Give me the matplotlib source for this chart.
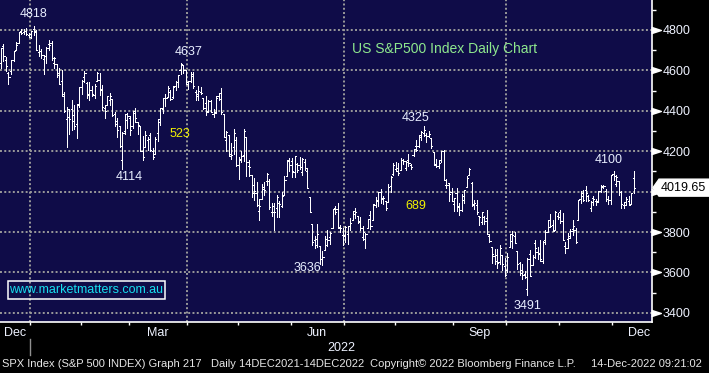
import numpy as np
import pandas as pd
import matplotlib
matplotlib.use('Agg')
import matplotlib.pyplot as plt
from matplotlib.transforms import blended_transform_factory, IdentityTransform
from matplotlib.patches import Polygon, Rectangle

plt.rcParams['font.family'] = ['Liberation Sans', 'DejaVu Sans']

# ---------------- data ----------------
holidays = ['2021-12-24', '2022-01-17', '2022-02-21', '2022-04-15', '2022-05-30',
            '2022-06-20', '2022-07-04', '2022-09-05', '2022-11-24', '2022-12-26']
dates = pd.bdate_range('2021-12-14', '2022-12-13')
dates = dates[~dates.isin(pd.to_datetime(holidays))]

opens = [
    4642, 4636, 4719, 4652, 4587, 4595, 4650, 4703, 4733, 4795, 4788, 4795, 4776,
    4779, 4804, 4788, 4693, 4697, 4655, 4670, 4728, 4733, 4637, 4632, 4588, 4548, 4471, 4357, 4367, 4408, 4380, 4336, 4431,
    4519, 4566, 4535, 4483, 4505, 4480, 4548, 4553, 4506, 4412, 4429, 4455, 4456, 4385, 4333, 4324, 4155, 4299, 4354,
    4364, 4323, 4401, 4342, 4327, 4203, 4223, 4253, 4279, 4203, 4188, 4288, 4345, 4407, 4463, 4470, 4494, 4470, 4522, 4541, 4603, 4624, 4600,
    4541, 4547, 4572, 4495, 4474, 4495, 4463, 4438, 4395, 4450, 4385, 4391, 4473, 4489, 4385, 4255, 4278, 4187, 4222, 4253,
    4131, 4159, 4181, 4271, 4128, 4081, 4035, 3991, 3903, 3963, 4013, 4053, 4051, 3900, 3927, 3919, 3942, 3930, 3985, 4077, 4151,
    4150, 4096, 4138, 4134, 4096, 4148, 4101, 3975, 3839, 3763, 3765, 3729, 3666, 3710, 3734, 3774, 3821, 3920, 3913, 3825, 3785,
    3782, 3792, 3831, 3859, 3889, 3880, 3851, 3776, 3764, 3818, 3884, 3860, 3935, 3955, 4000, 3966, 3953, 3951, 4026, 4088,
    4112, 4104, 4108, 4154, 4116, 4156, 4133, 4181, 4227, 4225, 4269, 4290, 4281, 4274, 4266, 4195, 4134, 4127, 4154, 4199, 4035, 4041, 4000,
    3937, 3995, 3930, 3910, 3960, 4022, 4084, 4041, 3940, 3933, 3880, 3849, 3875, 3871, 3782, 3727, 3682, 3687, 3651, 3687, 3633,
    3610, 3726, 3754, 3778, 3706, 3646, 3595, 3590, 3520, 3690, 3638, 3746, 3703, 3689, 3657, 3762, 3799, 3825, 3835, 3809, 3881,
    3901, 3853, 3733, 3767, 3780, 3817, 3810, 3859, 3964, 3978, 4007, 3976, 3920, 3967, 3956, 3956, 4001, 4024, 4005, 3964, 3957,
    4087, 4040, 4052, 3996, 3934, 3947, 3954, 3940, 4069,
]
highs = [
    4660, 4712, 4731, 4667, 4591, 4651, 4698, 4741, 4791, 4807, 4805, 4809, 4787,
    4797, 4819, 4798, 4725, 4708, 4674, 4714, 4749, 4744, 4665, 4632, 4611, 4603, 4494, 4418, 4411, 4454, 4428, 4432, 4517,
    4550, 4595, 4542, 4540, 4521, 4531, 4590, 4588, 4527, 4427, 4472, 4489, 4456, 4394, 4362, 4325, 4295, 4385, 4388,
    4375, 4401, 4416, 4342, 4327, 4276, 4299, 4268, 4292, 4218, 4271, 4358, 4412, 4465, 4481, 4522, 4501, 4521, 4546, 4575, 4637, 4627, 4603,
    4547, 4593, 4593, 4504, 4521, 4520, 4463, 4472, 4453, 4453, 4411, 4471, 4489, 4513, 4386, 4299, 4278, 4240, 4309, 4269,
    4169, 4200, 4308, 4271, 4158, 4082, 4068, 4050, 3964, 4039, 4046, 4090, 4063, 3946, 3943, 3982, 3956, 3999, 4075, 4158, 4168,
    4166, 4177, 4143, 4169, 4164, 4160, 4119, 3975, 3839, 3778, 3838, 3729, 3707, 3780, 3811, 3802, 3914, 3928, 3945, 3837, 3818,
    3829, 3832, 3870, 3905, 3919, 3880, 3874, 3829, 3796, 3864, 3903, 3940, 3975, 3999, 4013, 3976, 3953, 4039, 4079, 4140,
    4145, 4141, 4167, 4161, 4151, 4187, 4138, 4211, 4257, 4280, 4302, 4325, 4292, 4300, 4266, 4195, 4160, 4156, 4200, 4204, 4062, 4045, 4016,
    3970, 4019, 3942, 3987, 4010, 4076, 4119, 4050, 3961, 3957, 3880, 3900, 3877, 3907, 3790, 3727, 3716, 3717, 3737, 3687, 3672,
    3698, 3791, 3807, 3798, 3707, 3653, 3641, 3608, 3670, 3712, 3684, 3762, 3728, 3762, 3757, 3810, 3862, 3887, 3859, 3906, 3894,
    3911, 3895, 3750, 3796, 3814, 3859, 3818, 3959, 4002, 4009, 4029, 3984, 3954, 3979, 3962, 4004, 4034, 4034, 4013, 3976, 4080,
    4101, 4080, 4052, 4001, 3951, 3974, 3977, 3991, 4100,
]
lows = [
    4606, 4612, 4648, 4598, 4531, 4584, 4645, 4703, 4733, 4780, 4779, 4775, 4766,
    4758, 4775, 4699, 4672, 4663, 4582, 4638, 4702, 4651, 4614, 4568, 4530, 4475, 4395, 4223, 4287, 4305, 4309, 4264, 4420,
    4484, 4544, 4464, 4451, 4471, 4465, 4548, 4478, 4402, 4364, 4429, 4430, 4374, 4327, 4268, 4223, 4114, 4287, 4316,
    4280, 4317, 4346, 4285, 4199, 4157, 4223, 4206, 4200, 4162, 4188, 4251, 4329, 4390, 4425, 4469, 4455, 4465, 4501, 4518, 4582, 4589, 4530,
    4507, 4541, 4514, 4453, 4451, 4482, 4411, 4381, 4393, 4392, 4370, 4390, 4455, 4385, 4268, 4200, 4175, 4162, 4188, 4128,
    4062, 4147, 4152, 4077, 4076, 3975, 3958, 3929, 3859, 3963, 3984, 4033, 3912, 3878, 3810, 3876, 3875, 3925, 3985, 4077, 4104,
    4074, 4074, 4098, 4110, 4081, 4107, 4017, 3900, 3734, 3722, 3725, 3640, 3636, 3710, 3730, 3743, 3821, 3889, 3820, 3799, 3738,
    3752, 3743, 3809, 3859, 3869, 3847, 3812, 3759, 3722, 3818, 3817, 3860, 3925, 3927, 3945, 3937, 3910, 3951, 3996, 4080,
    4104, 4080, 4108, 4135, 4108, 4128, 4112, 4177, 4201, 4219, 4257, 4277, 4245, 4269, 4218, 4130, 4123, 4119, 4147, 4057, 4017, 3954, 3954,
    3904, 3906, 3886, 3906, 3945, 4022, 4084, 3929, 3913, 3887, 3837, 3838, 3838, 3789, 3749, 3647, 3644, 3623, 3641, 3610, 3584,
    3604, 3726, 3723, 3744, 3618, 3589, 3569, 3572, 3491, 3582, 3638, 3673, 3667, 3655, 3647, 3741, 3799, 3824, 3804, 3808, 3863,
    3843, 3759, 3698, 3722, 3772, 3786, 3744, 3859, 3944, 3956, 3953, 3955, 3906, 3936, 3933, 3947, 3999, 4020, 3956, 3937, 3938,
    4058, 4026, 3984, 3919, 3917, 3935, 3934, 3937, 3994,
]
closes = [
    4634, 4709, 4669, 4621, 4568, 4649, 4697, 4726, 4791, 4786, 4793, 4778, 4766,
    4797, 4794, 4701, 4696, 4677, 4670, 4713, 4726, 4659, 4663, 4577, 4533, 4483, 4398, 4410, 4357, 4350, 4327, 4432, 4516,
    4546, 4589, 4477, 4501, 4484, 4522, 4587, 4504, 4419, 4401, 4472, 4475, 4380, 4349, 4305, 4226, 4288, 4385, 4374,
    4306, 4387, 4363, 4329, 4201, 4171, 4278, 4260, 4204, 4173, 4262, 4358, 4412, 4463, 4461, 4512, 4456, 4520, 4543, 4575, 4632, 4602, 4530,
    4546, 4583, 4525, 4481, 4500, 4488, 4413, 4397, 4447, 4392, 4392, 4463, 4459, 4394, 4272, 4296, 4175, 4183, 4288, 4132,
    4155, 4175, 4300, 4147, 4123, 3991, 4001, 3935, 3930, 4024, 4008, 4088, 3923, 3901, 3901, 3974, 3941, 3979, 4058, 4158, 4132,
    4101, 4176, 4109, 4121, 4161, 4116, 4018, 3901, 3750, 3735, 3790, 3667, 3675, 3765, 3760, 3796, 3912, 3900, 3822, 3819, 3785,
    3825, 3831, 3845, 3903, 3899, 3855, 3819, 3801, 3791, 3863, 3831, 3937, 3960, 3999, 3962, 3967, 3921, 4024, 4073, 4130,
    4119, 4091, 4155, 4152, 4145, 4140, 4122, 4210, 4207, 4280, 4297, 4305, 4275, 4284, 4228, 4138, 4128, 4141, 4199, 4058, 4031, 3986, 3955,
    3967, 3924, 3909, 3980, 4006, 4067, 4110, 3932, 3946, 3901, 3873, 3900, 3856, 3790, 3758, 3693, 3655, 3648, 3720, 3640, 3586,
    3679, 3791, 3783, 3745, 3640, 3612, 3589, 3577, 3669, 3583, 3677, 3720, 3695, 3666, 3753, 3798, 3859, 3831, 3807, 3901, 3872,
    3856, 3760, 3720, 3771, 3807, 3828, 3749, 3957, 3993, 3957, 3992, 3959, 3947, 3965, 3950, 4003, 4027, 4026, 3964, 3958, 4080,
    4077, 4072, 3999, 3941, 3933, 3964, 3934, 3991, 4019.65,
]

y_ticks = [3400, 3600, 3800, 4000, 4200, 4400, 4600, 4800]
y_ticklabels = ['3400', '3600', '3800', '', '4200', '4400', '4600', '4800']  # 4000 hidden by last-price tag
y_minor = [3500, 3700, 3900, 4100, 4300, 4500, 4700, 4900]
month_labels = ['Dec', 'Mar', 'Jun', 'Sep', 'Dec']
month_label_periods = ['2021-12', '2022-03', '2022-06', '2022-09', '2022-12']
year_label = '2022'

ann_text = ['4818', '4637', '523', '4114', '4325', '689', '3636', '4100', '3491']
ann_x = [14.1, 75.3, 71.7, 51.6, 164.9, 164.9, 121.9, 241.2, 209.2]
ann_y = [4879, 4691, 4284, 4070, 4363, 3927, 3624, 4155, 3435]
ann_col = ['#e8eeff', '#e8eeff', '#f2f200', '#e8eeff', '#e8eeff', '#f2f200', '#e8eeff', '#e8eeff', '#e8eeff']

title_text = 'US S&P500 Index Daily Chart'
site_text = 'www.marketmatters.com.au'
footer = ['SPX Index (S&P 500 INDEX) Graph 217', 'Daily 14DEC2021-14DEC2022',
          'Copyright\u00a9 2022 Bloomberg Finance L.P.', '14-Dec-2022 09:21:02']
footer_x = [2, 211, 370, 591]

# ---------------- figure ----------------
W, H = 709, 373
NAVY = '#0f0c48'
fig = plt.figure(figsize=(W / 100, H / 100), dpi=100, facecolor='black')
ax = fig.add_axes([0, 1 - 322 / H, 652 / W, 322 / H])
ax.set_facecolor(NAVY)

idx = np.arange(len(dates))
assert len(opens) == len(highs) == len(lows) == len(closes) == len(idx)
kw = dict(colors='white', linewidth=0.55, antialiased=False, zorder=3)
ax.vlines(idx, lows, highs, **kw)
ax.hlines(opens, idx - 0.45, idx, **kw)
ax.hlines(closes, idx, idx + 0.45, **kw)

ax.set_xlim(0.65, 258.2)
ax.set_ylim(3355, 4948)

# month boundaries
months = dates.to_period('M')
bounds = [i - 0.5 for i in range(1, len(dates)) if months[i] != months[i - 1]]
qbounds = [i - 0.5 for i in range(1, len(dates))
           if months[i] != months[i - 1] and dates[i].month in (1, 4, 7, 10)]

grid_kw = dict(color='#9a9a9a', linewidth=1.4, linestyle=(0, (1, 1.2)), zorder=1)
for b in qbounds:
    ax.axvline(b, **grid_kw)
for yv in y_ticks:
    ax.axhline(yv, **grid_kw)

for s in ['top', 'left']:
    ax.spines[s].set_visible(False)
for s in ['bottom', 'right']:
    ax.spines[s].set_color('white')
    ax.spines[s].set_linewidth(1.2)

ax.set_xticks(bounds)
ax.tick_params(axis='x', which='major', length=2.5, width=1, color='white',
               direction='out', labelbottom=False)

ax.yaxis.tick_right()
ax.set_yticks(y_ticks)
ax.set_yticklabels(y_ticklabels)
ax.set_yticks(y_minor, minor=True)
ax.tick_params(axis='y', which='major', length=0, pad=7.5, labelsize=9, labelcolor='#eef2ff')
ax.tick_params(axis='y', which='minor', length=3, width=1, color='white', direction='out')

# triangle markers on major ticks
btr = blended_transform_factory(ax.transAxes, ax.transData)
tri = [(-1, -0.65), (1, 0), (-1, 0.65)]
ax.plot([1 + 4.5 / 652] * len(y_ticks), y_ticks, ls='none', marker=tri, ms=7,
        color='white', mec='white', transform=btr, clip_on=False, zorder=5)

# month labels
full_days = pd.bdate_range('2021-12-01', '2022-12-31')
full_days = full_days[~full_days.isin(pd.to_datetime(holidays))]
offset = list(full_days).index(dates[0])
full_idx = np.arange(len(full_days)) - offset
fper = full_days.to_period('M').astype(str)
xt = blended_transform_factory(ax.transData, fig.transFigure)
for lab, per in zip(month_labels, month_label_periods):
    c = full_idx[fper == per].mean()
    if (c - 0.65) * 2.532 < 12:
        ax.text(4 / 652, 1 - 333 / H, lab, transform=blended_transform_factory(ax.transAxes, fig.transFigure),
                ha='left', va='center', fontsize=9, color='#eef2ff')
    else:
        ax.text(c, 1 - 333 / H, lab, transform=xt, ha='center', va='center',
                fontsize=9, color='#eef2ff')
ax.text((bounds[0] + 258.2) / 2, 1 - 348 / H, year_label, transform=xt, ha='center',
        va='center', fontsize=9, color='#eef2ff')
ax.plot([bounds[0], bounds[0]], [1 - 339 / H, 1 - 355 / H], color='#909090', lw=1,
        transform=xt, clip_on=False)

# annotations
for t, x, y, c in zip(ann_text, ann_x, ann_y, ann_col):
    ax.text(x, y, t, ha='center', va='center', fontsize=9, color=c, zorder=6)

ax.text(352 / 652, (322 - 49) / 322, title_text, transform=ax.transAxes, ha='left',
        va='center', fontsize=10, color='#8ee88e', zorder=6)

ax.add_patch(Rectangle((8 / 652, (322 - 299) / 322), 157 / 652, 18 / 322,
                       transform=ax.transAxes, fill=False, edgecolor='white', lw=1.1, zorder=6))
ax.text(86.5 / 652, (322 - 290) / 322, site_text, transform=ax.transAxes, ha='center',
        va='center', fontsize=9, color='#16e0f0', zorder=7)

# footer
for t, x in zip(footer, footer_x):
    fig.text(x / W, 1 - 364 / H, t, ha='left', va='center', fontsize=8, color='#e6e6e6')

# last price box
fig.canvas.draw()
yc = ax.transData.transform((0, closes[-1]))[1]
poly = Polygon([(653, yc), (659, yc + 8.5), (709, yc + 8.5), (709, yc - 8.5), (659, yc - 8.5)],
               closed=True, facecolor='white', edgecolor='white', transform=IdentityTransform())
fig.add_artist(poly)
fig.text(661 / W, yc / H, f'{closes[-1]:.2f}', ha='left', va='center', fontsize=9, color='black')

fig.savefig('out.png', dpi=100, facecolor='black')
